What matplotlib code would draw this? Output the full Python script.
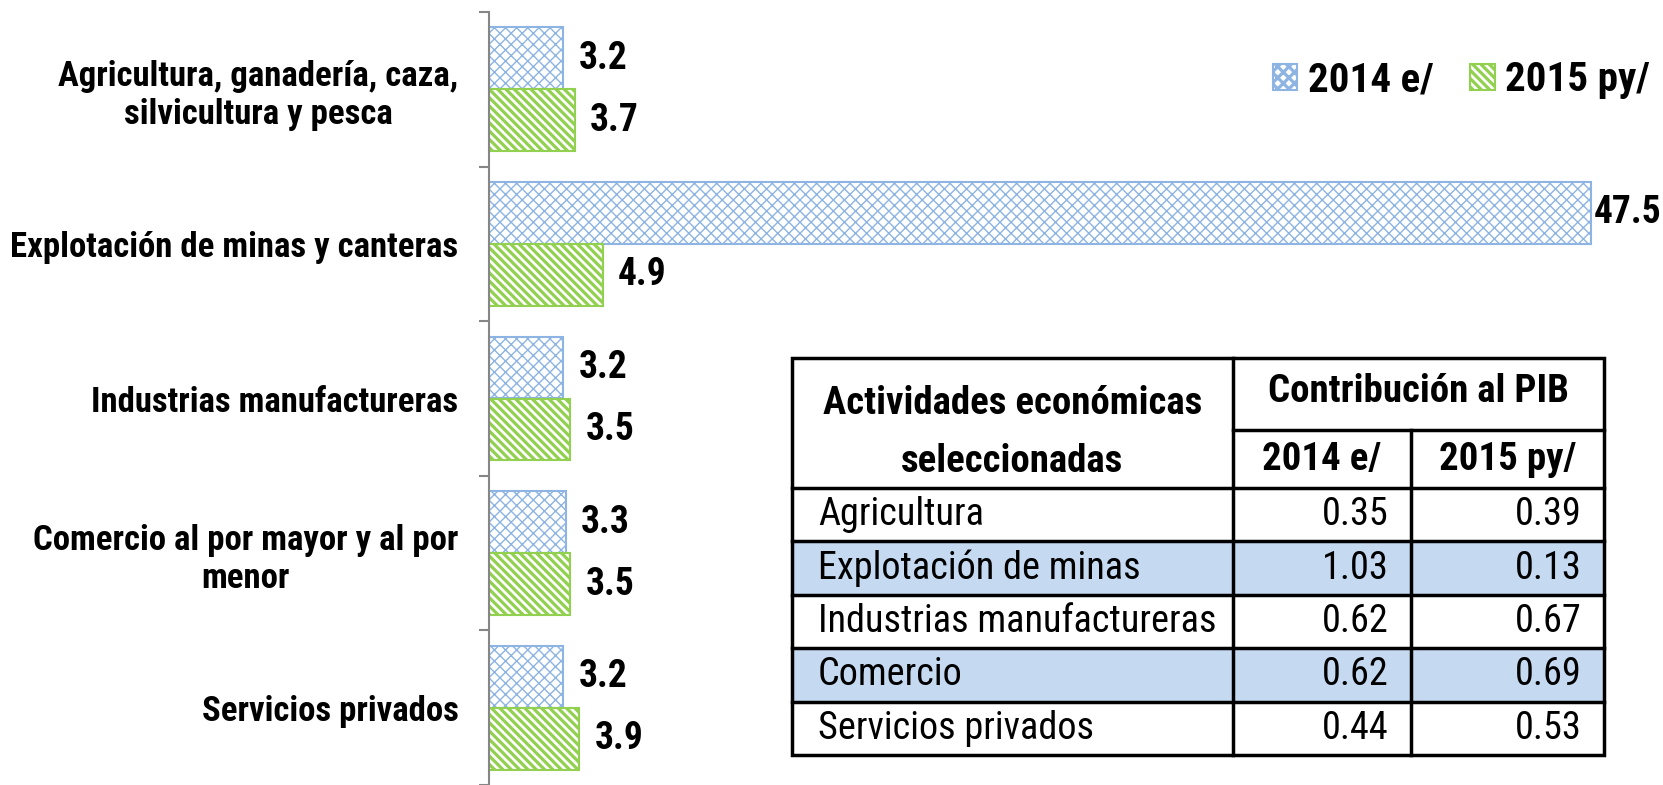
import matplotlib
matplotlib.use("Agg")
import matplotlib.pyplot as plt
from matplotlib.patches import Rectangle

plt.rcParams["font.family"] = ["Roboto Condensed", "DejaVu Sans"]

BLUE, GREEN, AXIS = "#8DB4E2", "#92D050", "#868686"

# bar chart data
categories = ["Agricultura, ganadería, caza,\nsilvicultura y pesca",
              "Explotación de minas y canteras",
              "Industrias manufactureras",
              "Comercio al por mayor y al por\nmenor",
              "Servicios privados"]
v2014 = [3.2, 47.5, 3.2, 3.3, 3.2]
v2015 = [3.7, 4.9, 3.5, 3.5, 3.9]
series = ["2014 e/", "2015 py/"]

# table data
tab_header = ["Actividades económicas", "seleccionadas", "Contribución al PIB"]
tab_rows = ["Agricultura", "Explotación de minas", "Industrias manufactureras",
            "Comercio", "Servicios privados"]
t2014 = ["0.35", "1.03", "0.62", "0.62", "0.44"]
t2015 = ["0.39", "0.13", "0.67", "0.69", "0.53"]
shaded = [False, True, False, True, False]

W, H = 1663, 785
fig = plt.figure(figsize=(W / 100, H / 100), dpi=100)
ax = fig.add_axes([489 / W, 0, 1160 / W, 773 / H])
XMAX = 50

pos = list(range(len(categories)))
plt.rcParams["hatch.linewidth"] = 1.0
b1 = ax.barh([p - 0.2 for p in pos], v2014, height=0.4, color="white",
             edgecolor=BLUE, hatch="xxx", lw=1.5, label=series[0])
plt.rcParams["hatch.linewidth"] = 2.3
b2 = ax.barh([p + 0.2 for p in pos], v2015, height=0.4, color="white",
             edgecolor=GREEN, hatch="\\\\\\\\", lw=1.5, label=series[1])

for bars, vals in ((b1, v2014), (b2, v2015)):
    for r, v in zip(bars, vals):
        off = 2 if v > 0.9 * XMAX else 11   # long bar: label hugs the bar end
        ax.annotate(f"{v:.1f}", (r.get_width(), r.get_y() + r.get_height() / 2),
                    xytext=(off, 0), textcoords="offset points", ha="left",
                    va="center", fontsize=27, fontweight="bold")

ax.set_xlim(0, XMAX)
ax.set_ylim(4.487, -0.5)
ax.set_xticks([])
for s in ("top", "right", "bottom"):
    ax.spines[s].set_visible(False)
ax.spines["left"].set_color(AXIS)
ax.spines["left"].set_linewidth(1.5)
ax.set_yticks([p - 0.5 for p in range(len(categories) + 1)])
ax.set_yticklabels([])
ax.tick_params(axis="y", which="major", length=7, width=1.5, color=AXIS)
ax.set_yticks(pos, minor=True)
ax.set_yticklabels(categories, minor=True, fontsize=25, fontweight="bold")
ax.tick_params(axis="y", which="minor", length=0, pad=22)
for lab in ax.get_yticklabels(minor=True):
    lab.set_multialignment("center")

fig.legend(handles=[b1, b2], loc="center right", bbox_to_anchor=(1650 / W, 1 - 80 / H),
           ncol=2, frameon=False, prop={"weight": "bold", "size": 29.5},
           borderaxespad=0, borderpad=0, handlelength=0.6, handleheight=0.6,
           handletextpad=0.25, columnspacing=0.9)

# table drawn in pixel coordinates
tx = fig.add_axes([0, 0, 1, 1])
tx.set_xlim(0, W)
tx.set_ylim(H, 0)
tx.axis("off")
L, C1, C2, R = 792, 1233, 1411, 1604
T, HM, HB, B = 358, 430, 488, 755
rh = (B - HB) / len(tab_rows)
for i, (name, a, b) in enumerate(zip(tab_rows, t2014, t2015)):
    y0 = HB + i * rh
    if shaded[i]:
        tx.add_patch(Rectangle((L, y0), R - L, rh, fc="#C5D9F1", ec="none"))
    tx.text(L + 26, y0 + rh / 2, name, fontsize=27.5, va="center", ha="left")
    tx.text(C2 - 22, y0 + rh / 2, a, fontsize=27.5, va="center", ha="right")
    tx.text(R - 22, y0 + rh / 2, b, fontsize=27.5, va="center", ha="right")
lw = 2.5
tx.add_patch(Rectangle((L, T), R - L, B - T, fill=False, ec="black", lw=lw))
for i in range(len(tab_rows)):
    y0 = HB + i * rh
    tx.plot([L, R], [y0, y0], color="black", lw=lw)
tx.plot([C1, C1], [T, B], color="black", lw=lw)
tx.plot([C2, C2], [HM, B], color="black", lw=lw)
tx.plot([C1, R], [HM, HM], color="black", lw=lw)
hdr = dict(fontsize=28, fontweight="bold", ha="center", va="center")
tx.text((L + C1) / 2, 403, tab_header[0], **hdr)
tx.text((L + C1) / 2, 461, tab_header[1], **hdr)
tx.text((C1 + R) / 2, 392, tab_header[2], **hdr)
tx.text((C1 + C2) / 2, 459, series[0], **hdr)
tx.text((C2 + R) / 2, 459, series[1], **hdr)

fig.savefig("out.png", dpi=100)
